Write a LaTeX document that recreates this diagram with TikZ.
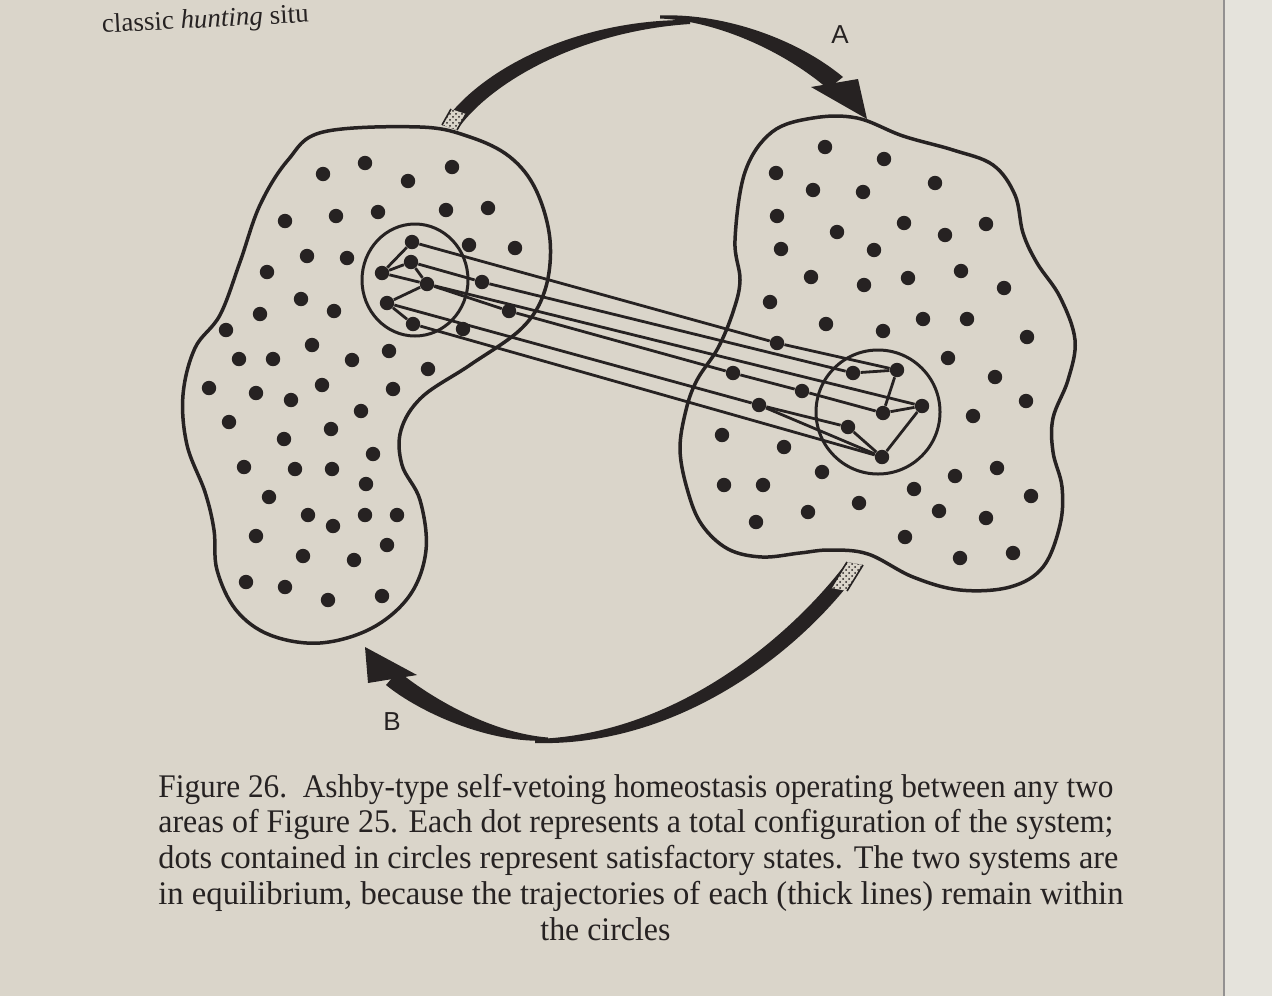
\documentclass[tikz,border=0pt]{standalone}
\usepackage{fontspec}
\setmainfont{Liberation Serif}
\newfontfamily\labfont{Liberation Sans}
\usetikzlibrary{patterns}
\definecolor{paper}{RGB}{218,213,202}
\definecolor{ink}{RGB}{38,34,34}
\definecolor{edgepage}{RGB}{229,227,220}
\tikzset{
  dot/.style={circle,fill=ink,inner sep=0pt,minimum size=7.2pt},
  blob/.style={draw=ink,line width=1.75pt},
  traj/.style={draw=ink,line width=1.4pt},
  satcircle/.style={draw=ink,line width=1.5pt},
  thickarrow/.style={fill=ink},
  stipple/.style={pattern=crosshatch dots,pattern color=ink},
  capline/.style={anchor=base west,inner sep=0pt,text=ink},
  letter/.style={font=\labfont\fontsize{13}{13}\selectfont,text=ink,inner sep=0pt}
}
\newcommand\fitline[2]{\resizebox{#1}{\height}{\fontsize{16.5}{18}\selectfont #2}}
\begin{document}
\begin{tikzpicture}[x=0.5pt,y=-0.5pt]
\useasboundingbox (0,0) rectangle (1272,996);
\clip (0,0) rectangle (1272,996);
\fill[paper] (0,0) rectangle (1272,996);
\fill[edgepage] (1224,0) rectangle (1272,996);
\draw[ink!50,line width=0.6pt] (1224,0) -- (1224,996);

% top running text
\node[capline,rotate=3,font=\fontsize{13.5}{16}\selectfont] (toptext) at (102,33) {classic \textit{hunting} situ};

% ---------- blobs ----------
\draw[blob] plot[smooth cycle,tension=0.6] coordinates {
 (323,132) (420,127) (470,137) (510,157) (536,190) (550,240) (545,290) (522,328)
 (470,365) (422,397) (401,430) (402,465) (420,500) (426,550) (410,595) (372,628)
 (320,643) (270,635) (236,610) (217,570) (214,530) (205,492) (187,445) (183,395)
 (195,348) (220,315) (240,262) (260,205) (288,160)};
\draw[blob] plot[smooth cycle,tension=0.6] coordinates {
 (697,380) (686,410) (680,450) (688,492) (702,525) (728,549) (762,557) (800,553)
 (830,550) (868,554) (913,577) (960,590) (1010,587) (1043,567) (1060,525) (1062,487)
 (1053,452) (1053,418) (1068,380) (1075,340) (1060,297) (1037,263) (1023,233) (1015,195)
 (993,165) (953,150) (903,136) (857,118) (813,118) (772,132) (745,172) (735,240)
 (740,280) (733,312) (718,348)};

% ---------- satisfactory circles ----------
\draw[satcircle] (415,280) ellipse [x radius=53,y radius=56];
\draw[satcircle] (878,412) circle [radius=62];

% ---------- free dots, left system ----------
\foreach \p [count=\i] in {(365,163),(452,167),(323,174),(408,181),(285,221),(336,216),(378,212),
 (446,210),(488,208),(469,245),(515,248),(307,256),(347,258),(267,272),(301,299),(334,311),
 (260,314),(226,330),(463,329),(312,345),(389,351),(239,359),(273,359),(352,360),(428,369),
 (209,388),(256,393),(291,400),(322,385),(393,389),(361,411),(229,422),(331,429),(284,439),
 (373,454),(244,467),(295,469),(332,469),(366,484),(269,497),(308,515),(333,526),(365,515),
 (397,515),(256,536),(303,556),(354,560),(387,545),(246,582),(285,587),(328,600),(382,596)}
 \node[dot] (lf\i) at \p {};

% ---------- free dots, right system ----------
\foreach \p [count=\i] in {(825,147),(884,159),(776,173),(813,190),(863,192),(935,183),(777,216),
 (837,232),(904,223),(945,235),(986,224),(781,249),(874,250),(811,277),(864,285),(908,278),
 (961,271),(1004,288),(770,302),(826,324),(883,331),(923,319),(967,319),(1027,337),(948,358),
 (995,377),(1026,401),(973,416),(722,435),(784,447),(822,472),(724,485),(763,485),(859,503),
 (914,489),(955,476),(997,468),(1031,496),(756,522),(808,512),(939,511),(986,518),(905,537),
 (960,558),(1013,553)}
 \node[dot] (rf\i) at \p {};

% ---------- states on trajectories ----------
\node[dot] (L1) at (412,242) {};
\node[dot] (L2) at (411,262) {};
\node[dot] (L3) at (382,273) {};
\node[dot] (L4) at (427,284) {};
\node[dot] (L5) at (387,303) {};
\node[dot] (L6) at (413,324) {};
\node[dot] (la) at (482,282) {};
\node[dot] (lb) at (509,311) {};
\node[dot] (R1) at (897,370) {};
\node[dot] (R2) at (853,373) {};
\node[dot] (R3) at (922,406) {};
\node[dot] (R4) at (883,413) {};
\node[dot] (R5) at (848,427) {};
\node[dot] (R6) at (882,457) {};
\node[dot] (ra) at (777,343) {};
\node[dot] (rb) at (733,373) {};
\node[dot] (rc) at (802,391) {};
\node[dot] (rd) at (759,405) {};

% ---------- trajectories ----------
\draw[traj] (L3) -- (L1);
\draw[traj] (L3) -- (L2);
\draw[traj] (L2) -- (L4);
\draw[traj] (L5) -- (L4);
\draw[traj] (L5) -- (L6);
\draw[traj] (L1) -- (ra) -- (R1);
\draw[traj] (L2) -- (la) -- (R2);
\draw[traj] (L3) -- (L4) -- (R3);
\draw[traj] (L4) -- (lb) -- (rb) -- (rc) -- (R4);
\draw[traj] (L5) -- (rd) -- (R5);
\draw[traj] (L6) -- (R6);
\draw[traj] (rd) -- (R6);
\draw[traj] (R2) -- (R1);
\draw[traj] (R1) -- (R4);
\draw[traj] (R4) -- (R3);
\draw[traj] (R3) -- (R6);
\draw[traj] (R5) -- (R6);

% ---------- arrow A ----------
\fill[thickarrow] (442,125) .. controls (479,69) and (578,19) .. (690,20)
  -- (690,24) .. controls (582,31) and (491,81) .. (457,130) -- cycle;
\fill[paper] (442,125) -- (451,109) -- (466,114) -- (457,130) -- cycle;
\fill[stipple] (442,125) -- (451,109) -- (466,114) -- (457,130) -- cycle;
\draw[ink,line width=0.8pt] (442,125) -- (451,109) (466,114) -- (457,130);
\fill[thickarrow] (660,15.5) .. controls (722,13) and (796,38) .. (843,77)
  -- (828,89) .. controls (785,52) and (718,21) .. (660,18.5) -- cycle;
\fill[thickarrow] (811,87) -- (858,79) -- (867,119) -- cycle;
\node[letter] (labA) at (840,35) {A};

% ---------- arrow B ----------
\fill[thickarrow] (863,565) .. controls (807,646) and (683,747) .. (535,743)
  -- (535,739) .. controls (677,735) and (793,634) .. (847,562) -- cycle;
\fill[paper] (847,562) -- (863,565) -- (847,591) -- (831,588) -- cycle;
\fill[stipple] (847,562) -- (863,565) -- (847,591) -- (831,588) -- cycle;
\draw[ink,line width=0.8pt] (863,565) -- (847,591) (831,588) -- (847,562);
\fill[thickarrow] (548,740.5) .. controls (489,744) and (419,712) .. (386,685)
  -- (398,671) .. controls (431,698) and (491,733) .. (548,737.5) -- cycle;
\fill[thickarrow] (365,647) -- (417,675) -- (368,683) -- cycle;
\node[letter] (labB) at (392,722) {B};

% ---------- caption ----------
\node[capline] (cap1) at (158,797) {\fitline{477.5pt}{Figure 26.\ \ Ashby-type self-vetoing homeostasis operating between any two}};
\node[capline] (cap2) at (158,832) {\fitline{477.5pt}{areas of Figure 25. Each dot represents a total configuration of the system;}};
\node[capline] (cap3) at (158,868) {\fitline{480pt}{dots contained in circles represent satisfactory states. The two systems are}};
\node[capline] (cap4) at (158,904) {\fitline{482.5pt}{in equilibrium, because the trajectories of each (thick lines) remain within}};
\node[capline] (cap5) at (540,940) {\fitline{65pt}{the circles}};
\end{tikzpicture}
\end{document}
